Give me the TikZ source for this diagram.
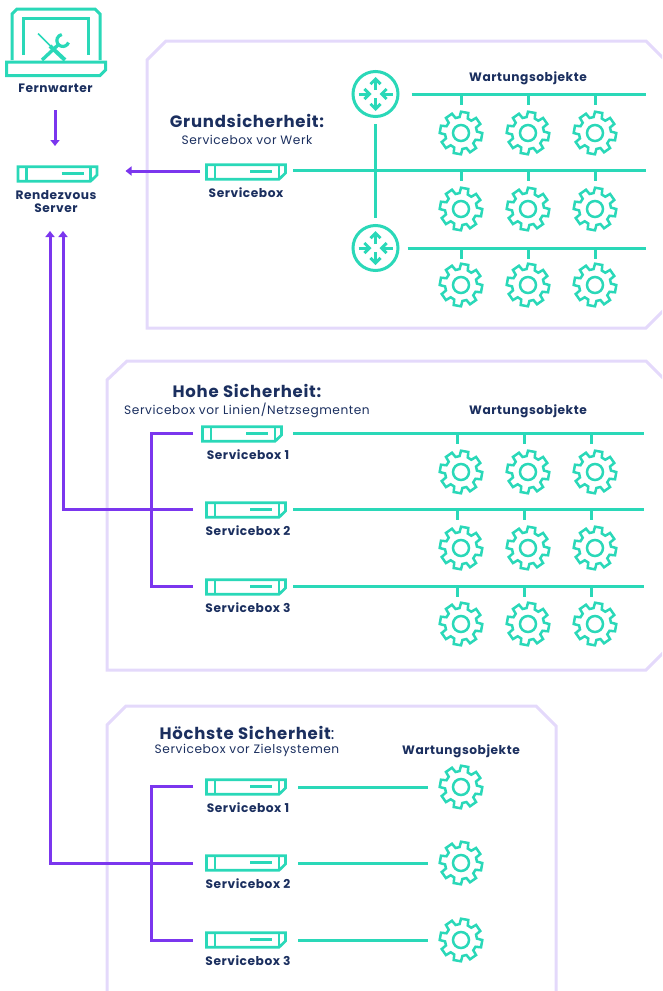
\documentclass[tikz,border=0pt]{standalone}
\usepackage{fontspec}
\setmainfont{Poppins}[LetterSpace=4.5]
\usetikzlibrary{arrows.meta}
\definecolor{teal}{HTML}{2AD8B8}
\definecolor{vio}{HTML}{7B36EE}
\definecolor{navy}{HTML}{1B2F5F}
\definecolor{lav}{HTML}{E4D9FB}
\tikzset{
  panel/.style={draw=lav,line width=3pt,line join=miter},
  tealline/.style={draw=teal,line width=3pt},
  vioarrow/.style={draw=vio,line width=3pt,-{Triangle[width=9pt,length=6pt]}},
  violine/.style={draw=vio,line width=3pt},
  anchorbox/.style={inner sep=0pt,outer sep=0pt,minimum width=82pt,minimum height=16pt},
  gearanchor/.style={circle,inner sep=0pt,outer sep=0pt,minimum size=44pt},
  routeranchor/.style={circle,inner sep=0pt,outer sep=0pt,minimum size=48pt},
  lab/.style={text=navy,font=\fontsize{12.2}{13.5}\selectfont\bfseries,align=center,inner sep=0pt},
  head/.style={text=navy,font=\fontsize{16.5}{18}\selectfont\bfseries,inner sep=0pt},
  sub/.style={text=navy,font=\fontsize{12.2}{14}\selectfont,inner sep=0pt},
  srvicon/.pic={
    \draw[tealline,line width=2.7pt,line join=miter] (-39.5,-7.2) -- (39.5,-7.2) -- (39.5,1) -- (33,7.3) -- (-39.5,7.3) -- cycle;
    \draw[tealline,line width=2.7pt] (-31,-7.2) -- (-31,7.3) (33,-7.2) -- (33,7.3) (4,-0.5) -- (26,-0.5);
  },
  gearicon/.pic={
    \draw[tealline,line width=2.5pt,line join=miter] (-5:16)
      \foreach \a in {10,55,100,145,190,235,280,325}{
        -- (\a-15:16) -- (\a-10:21.3) -- (\a+10:21.3) -- (\a+15:16)
      } -- cycle;
    \draw[tealline,line width=2.5pt] (0,0) circle (8);
  },
  routericon/.pic={
    \draw[tealline] (0,0) circle (22.5);
    \foreach \r in {0,180}{
      \draw[tealline,-{Straight Barb[length=5pt,width=10pt]},rotate=\r] (0,-4) -- (0,-17);
      \draw[tealline,-{Straight Barb[length=5pt,width=10pt]},rotate=\r] (-17,0) -- (-4,0);
    }
  },
}
\newcommand{\srvnode}[3]{\node[anchorbox] (#1) at (#2,#3) {}; \pic at (#1) {srvicon};}
\newcommand{\gearnode}[3]{\node[gearanchor] (#1) at (#2,#3) {}; \pic at (#1) {gearicon};}
\newcommand{\routernode}[3]{\node[routeranchor] (#1) at (#2,#3) {}; \pic at (#1) {routericon};}
\begin{document}
\begin{tikzpicture}[x=1pt,y=-1pt]
\useasboundingbox (0,0) rectangle (662,991);
\clip (0,0) rectangle (662,991);
% panels
\draw[panel] (668,63) -- (646,41) -- (166,41) -- (147,60) -- (147,328) -- (646,328) -- (668,306);
\draw[panel] (668,383) -- (646,361) -- (127,361) -- (107,380) -- (107,670) -- (646,670) -- (668,648);
\draw[panel] (107,1000) -- (107,725) -- (126,706) -- (536,706) -- (556,726) -- (556,1000);
% laptop
\node[inner sep=0pt,minimum width=100pt,minimum height=68pt] (laptop) at (56,42) {};
\draw[tealline,line join=miter] (12,60) -- (12,14) -- (17,9) -- (95,9) -- (100,14) -- (100,60);
\draw[tealline,line join=miter] (6.5,62) -- (105.5,62) -- (105.5,70) -- (100,75.5) -- (6.5,75.5) -- cycle;
\draw[tealline,line join=miter] (23,55) -- (23,18.5) -- (88,18.5) -- (88,55);
\draw[draw=teal,line width=1.6pt] (38,33.5) -- (51,46.5);
\draw[draw=teal,line width=4pt] (50,46) -- (65,60);
\draw[draw=teal,line width=3.4pt] (42,60) -- (58,45);
\draw[draw=teal,line width=3.2pt] (68.5,42.5) arc[start angle=20,end angle=260,radius=6];
% servers
\srvnode{rv}{57.5}{174}
\srvnode{sb}{246}{172}
\srvnode{hA}{242}{434}
\srvnode{hB}{246}{510}
\srvnode{hC}{246}{587}
\srvnode{tA}{246}{787}
\srvnode{tB}{246}{863}
\srvnode{tC}{246}{940}
% routers
\routernode{rA}{375.5}{94}
\routernode{rB}{375.5}{248}
% line ends
\coordinate (eA) at (646,94);
\coordinate (eB) at (646,170);
\coordinate (eC) at (646,248);
\coordinate (eD) at (644,433);
\coordinate (eE) at (644,509);
\coordinate (eF) at (644,586);
\coordinate (jH) at (151,433);
\coordinate (jI) at (151,586);
\coordinate (jT) at (151,786);
\coordinate (jU) at (151,940);
\coordinate (rvA) at (63,231);
\coordinate (rvB) at (50,231);
% gears
\foreach \n/\y in {a/133,b/209,c/285,d/472,e/548,f/624}{
  \gearnode{\n1}{461}{\y}
  \gearnode{\n2}{528}{\y}
  \gearnode{\n3}{595}{\y}
}
\gearnode{tg1}{461}{787}
\gearnode{tg2}{461}{863}
\gearnode{tg3}{461}{940}
% teal connectors
\draw[tealline,shorten <=12pt] (rA.east) -- (eA);
\draw[tealline,shorten <=6pt] (sb.east |- eB) -- (eB);
\draw[tealline,shorten <=8pt] (rB.east) -- (eC);
\draw[tealline,shorten <=6pt,shorten >=6pt] (rA.south) -- (rB.north);
\draw[tealline,shorten <=10pt] (hA.east |- eD) -- (eD);
\draw[tealline,shorten <=6pt] (hB.east |- eE) -- (eE);
\draw[tealline,shorten <=6pt] (hC.east |- eF) -- (eF);
\draw[tealline,shorten <=11pt,shorten >=11pt] (tA.east) -- (tg1.west);
\draw[tealline,shorten <=11pt,shorten >=11pt] (tB.east) -- (tg2.west);
\draw[tealline,shorten <=11pt,shorten >=11pt] (tC.east) -- (tg3.west);
\foreach \n/\e in {a/eA,b/eB,c/eC}{
  \foreach \i in {1,2,3}{
    \draw[tealline] (\n\i.north |- \e) -- ++(0,11);
  }
}
\foreach \n/\e in {d/eD,e/eE,f/eF}{
  \foreach \i in {1,2,3}{
    \draw[tealline] ([xshift=-4pt]\n\i.north |- \e) -- ++(0,11);
  }
}
% violet connectors
\draw[vioarrow,shorten <=34pt,shorten >=20pt] (laptop.south -| 55,76) -- (rv.north -| 55,166);
\draw[vioarrow,shorten <=5pt,shorten >=27pt] ([yshift=1pt]sb.west) -- ([yshift=1pt]rv.east |- sb.west);
\draw[violine,line join=miter,shorten <=8pt,shorten >=12pt] (hA.west |- jH) -- (jH) -- (jI) -- (hC.west |- jI);
\draw[vioarrow,line join=miter,shorten <=12pt] (hB.west |- eE) -- (rvA |- eE) -- (rvA);
\draw[violine,line join=miter,shorten <=12pt,shorten >=12pt] (tA.west |- jT) -- (jT) -- (jU) -- (tC.west |- jU);
\draw[vioarrow,line join=miter,shorten <=12pt] (tB.west) -- (rvB |- tB.west) -- (rvB);
% labels
\node[lab] (lFern) at (55.5,88) {Fernwarter};
\node[lab] (lRv) at (56,201.5) {Rendezvous\\Server};
\node[lab] (lSb) at (246,193) {Servicebox};
\node[head] (hG) at (247,121) {Grundsicherheit:};
\node[sub] (sG) at (247,140) {Servicebox vor Werk};
\node[lab] (wA) at (528,78.5) {Wartungsobjekte};
\node[head] (hH) at (247,391) {Hohe Sicherheit:};
\node[sub] (sH) at (247,410) {Servicebox vor Linien/Netzsegmenten};
\node[lab] (wB) at (528,411) {Wartungsobjekte};
\node[lab] at (248,455) {Servicebox 1};
\node[lab] at (248,530.5) {Servicebox 2};
\node[lab] at (248,607.5) {Servicebox 3};
\node[head] (hT) at (247,733) {Höchste Sicherheit{\normalfont:}};
\node[sub] (sT) at (247,750) {Servicebox vor Zielsystemen};
\node[lab] (wC) at (461,751) {Wartungsobjekte};
\node[lab] at (248,807.5) {Servicebox 1};
\node[lab] at (248,883.5) {Servicebox 2};
\node[lab] at (248,961) {Servicebox 3};
\end{tikzpicture}
\end{document}
